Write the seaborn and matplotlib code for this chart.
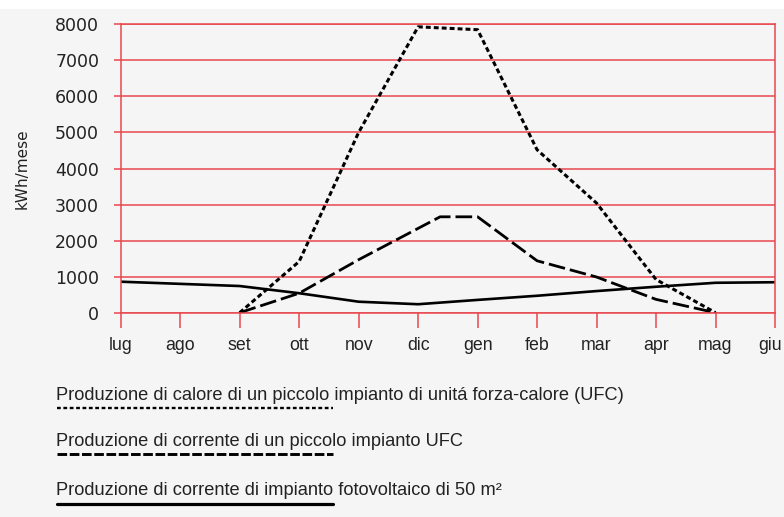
import matplotlib
matplotlib.use("Agg")
import matplotlib.pyplot as plt
import matplotlib.transforms as mtransforms
from matplotlib.lines import Line2D
from matplotlib.patches import Rectangle
import seaborn as sns

# ---- data ----
months = ["lug", "ago", "set", "ott", "nov", "dic", "gen", "feb", "mar", "apr", "mag", "giu"]

heat_x = [2, 3, 4, 5, 6, 7, 8, 9, 10]
heat_y = [0, 1420, 5000, 7930, 7850, 4520, 3040, 920, 0]

chp_x = [2, 3, 4, 5.37, 6, 7, 8, 9, 10]
chp_y = [0, 540, 1470, 2660, 2660, 1440, 990, 370, 0]

pv_x = [0, 1, 2, 3, 4, 5, 6, 7, 8, 9, 10, 11]
pv_y = [860, 800, 740, 540, 305, 235, 355, 470, 600, 720, 830, 845]

yticks = [0, 1000, 2000, 3000, 4000, 5000, 6000, 7000, 8000]
ylabel = "kWh/mese"
legend_labels = [
    "Produzione di calore di un piccolo impianto di unitá forza-calore (UFC)",
    "Produzione di corrente di un piccolo impianto UFC",
    "Produzione di corrente di impianto fotovoltaico di 50 m²",
]

# ---- style ----
BG = "#f5f5f5"
RED = "#e8474f"
COND = ["Liberation Sans", "DejaVu Sans"]

sns.set_theme(style="white")
plt.rcParams["font.family"] = ["DejaVu Sans"]

W, H = 784, 517
fig = plt.figure(figsize=(W / 100, H / 100), dpi=100, facecolor=BG)
fig.patches.append(Rectangle((0, 1 - 9 / H), 1, 9 / H, transform=fig.transFigure,
                             facecolor="white", edgecolor="none", zorder=0))

x0, x1 = 120.7, 775.0
y0, y1 = 312.7, 24.3
ax = fig.add_axes([x0 / W, (H - y0) / H, (x1 - x0) / W, (y0 - y1) / H])
ax.set_facecolor(BG)

sns.lineplot(x=heat_x, y=heat_y, ax=ax, color="black", linewidth=2.2,
             linestyle=(0, (1.6, 1.0)), sort=False)
sns.lineplot(x=chp_x, y=chp_y, ax=ax, color="black", linewidth=2.0,
             linestyle=(0, (6.0, 1.8)), sort=False)
sns.lineplot(x=pv_x, y=pv_y, ax=ax, color="black", linewidth=1.9, sort=False)

ax.set_xlim(0, len(months) - 1)
ax.set_ylim(0, 8000)
ax.set_xticks(range(len(months)))
ax.set_xticklabels(months, fontfamily=COND, fontsize=12.8, color="#222222")
ax.set_yticks(yticks)
ax.set_yticklabels([str(v) for v in yticks], fontsize=12.5, color="#222222")
ax.tick_params(axis="x", length=10.5, width=1.1, color=RED, pad=7, bottom=True)
ax.tick_params(axis="y", length=5, width=1.1, color=RED, pad=10.5, left=True)
ax.yaxis.grid(True, color=RED, linewidth=1.1)
ax.xaxis.grid(False)
for s in ax.spines.values():
    s.set_color(RED)
    s.set_linewidth(1.1)
ax.set_xlabel("")
ax.set_ylabel(ylabel, fontsize=11, color="#222222")
ax.yaxis.set_label_coords(-(x0 - 30) / (x1 - x0), 0.5)

# nudge the last month label so it stays inside the picture
last = ax.get_xticklabels()[-1]
last.set_transform(last.get_transform() +
                   mtransforms.ScaledTranslation(-5 / 100, 0, fig.dpi_scale_trans))

# ---- legend below ----
text_base = [400, 445.7, 495]
line_y = [407.7, 454, 504]
styles = [((0, (1.6, 1.1)), 1.7), ((0, (3.3, 0.9)), 2.1), ("-", 2.3)]
for lab, tb, ly, (ls, llw) in zip(legend_labels, text_base, line_y, styles):
    fig.text(56 / W, 1 - tb / H, lab, fontfamily=COND, fontsize=13.15, color="#222222",
             va="baseline", ha="left")
    fig.add_artist(Line2D([57 / W, 333 / W], [1 - ly / H, 1 - ly / H],
                          transform=fig.transFigure, color="black",
                          linewidth=llw, linestyle=ls))

fig.savefig("out.png", dpi=100, facecolor=fig.get_facecolor())
